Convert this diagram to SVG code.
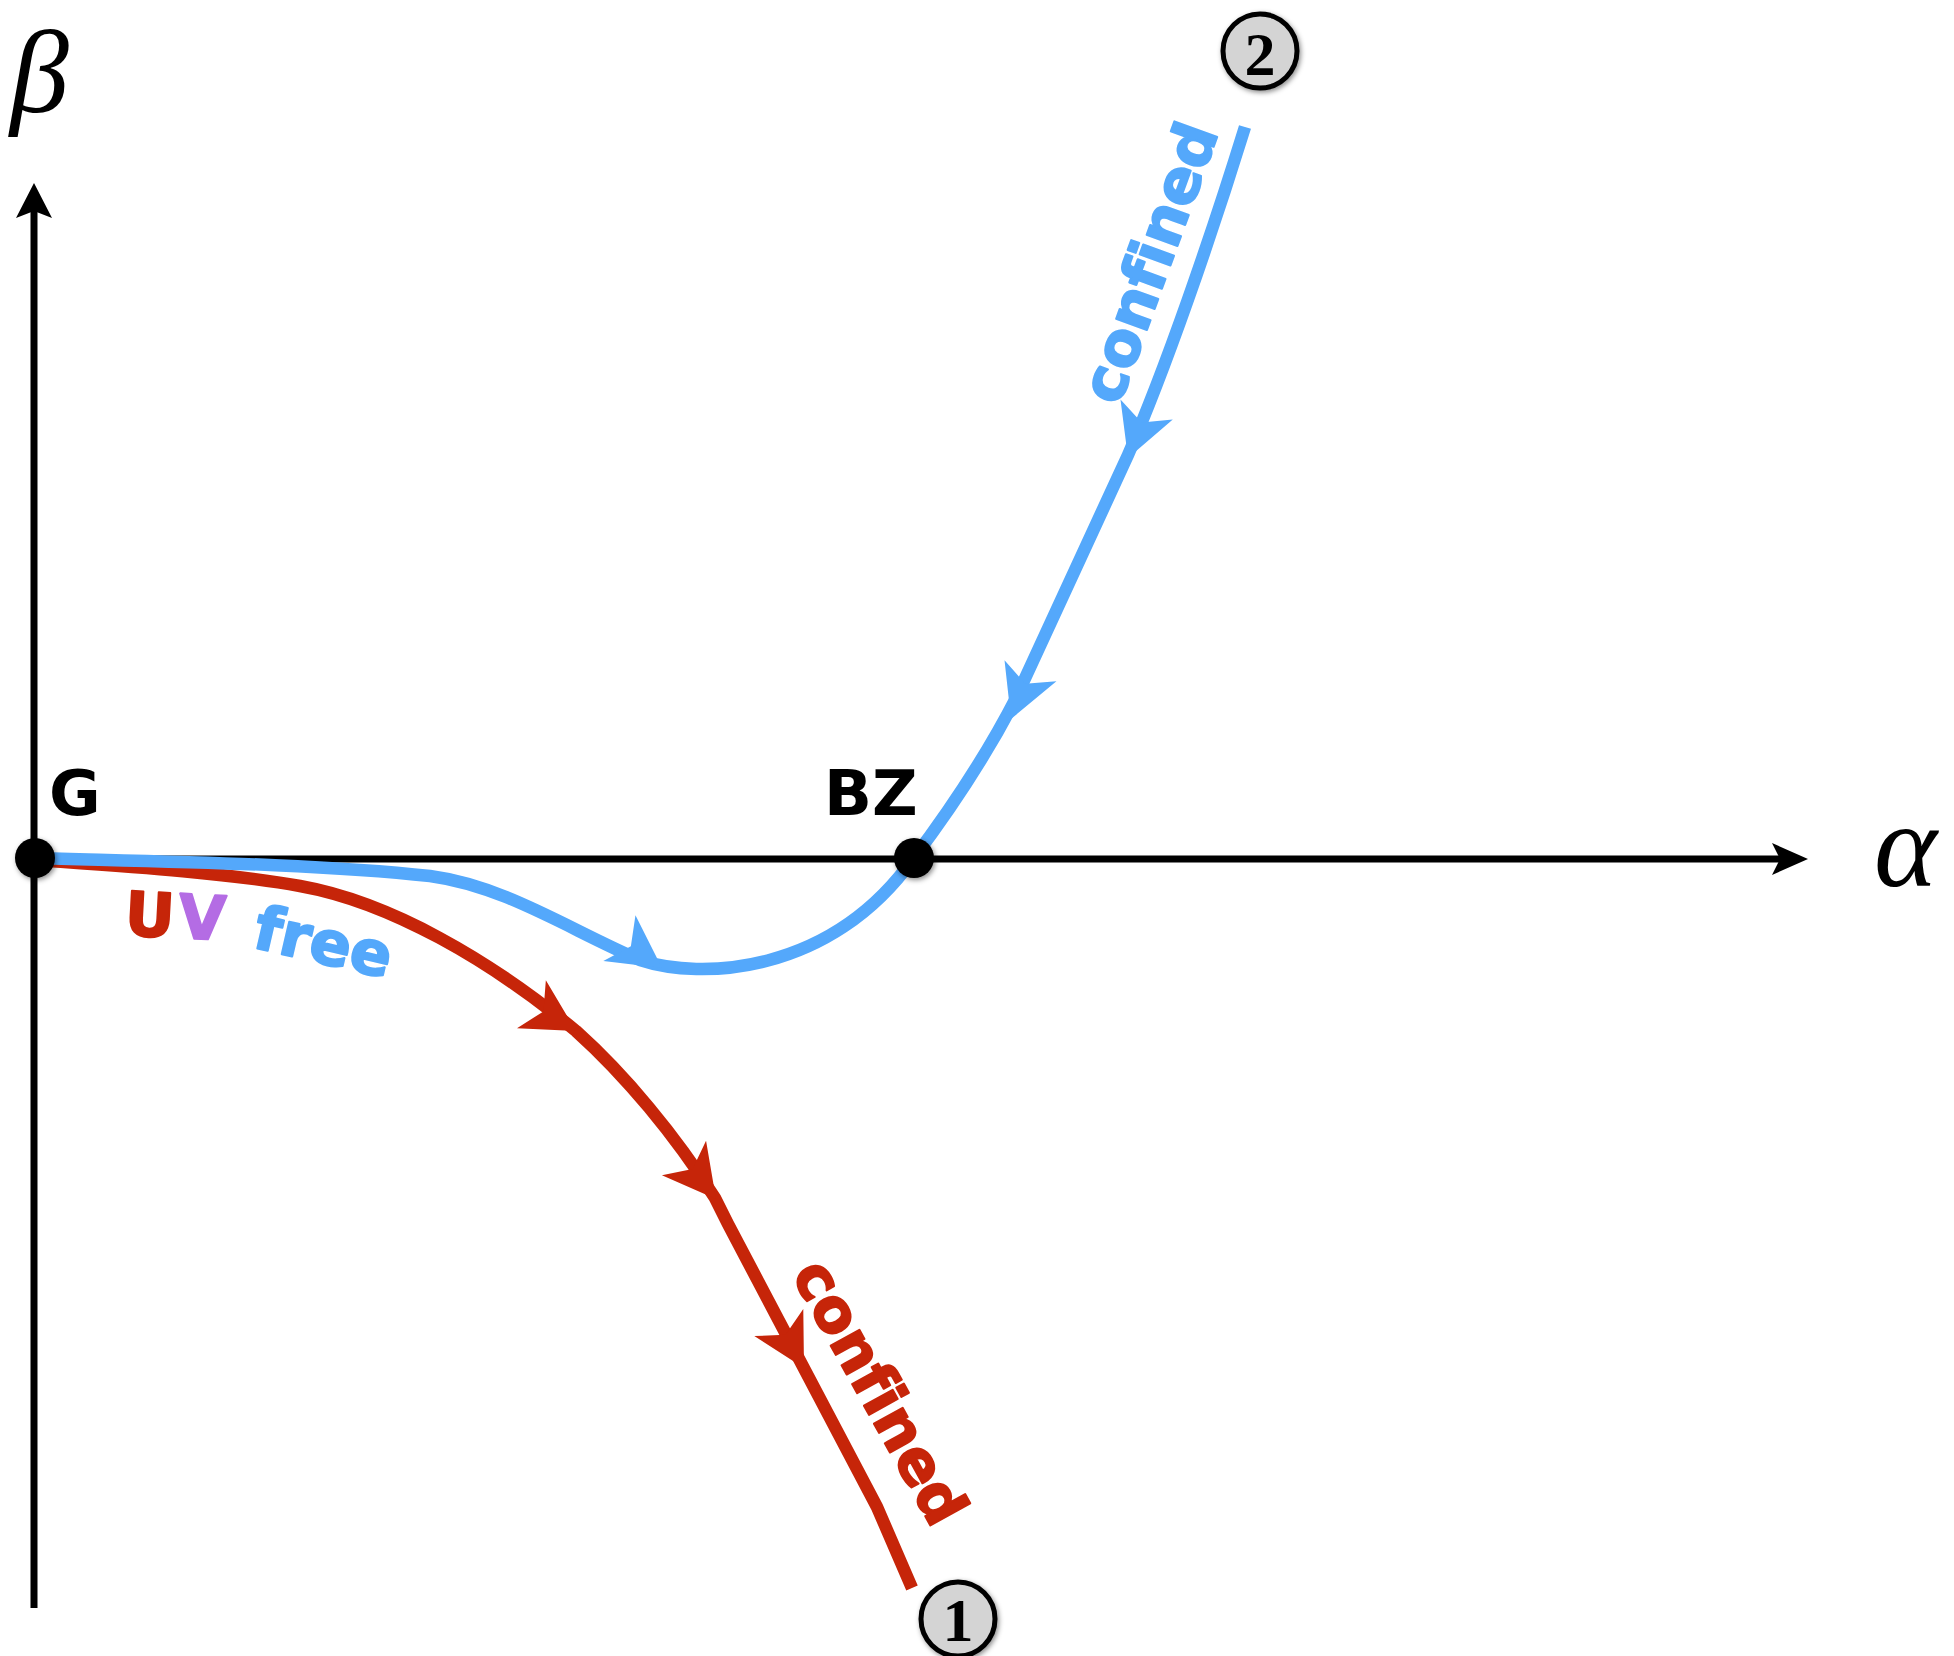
<svg xmlns="http://www.w3.org/2000/svg" xmlns:xlink="http://www.w3.org/1999/xlink" width="1954" height="1656" viewBox="0 0 1954 1656">
<style>
.axis{stroke:#000;stroke-width:7;fill:none}
.red{stroke:#c62509;stroke-width:12.5;fill:none;stroke-linejoin:round}
.blue{stroke:#54a8fb;stroke-width:12.5;fill:none;stroke-linejoin:round}
.lbl{font-family:"DejaVu Sans",Verdana,sans-serif;font-weight:bold;stroke-width:2;stroke-linejoin:round;font-variant-ligatures:none;font-feature-settings:"liga" 0}
.num{font-family:"Liberation Serif","Times New Roman",serif;font-weight:bold;font-size:62px;text-anchor:middle}
.greek{font-family:"Liberation Serif","DejaVu Serif",serif;font-style:italic}
</style>
<defs>
<path id="ah" d="M0,0 L-52,-28 L-38,0 L-52,28 Z"/>
<filter id="sh" x="-30%" y="-30%" width="160%" height="160%">
<feDropShadow dx="1.5" dy="2" stdDeviation="2.5" flood-color="#000" flood-opacity="0.45"/>
</filter>
</defs>
<g id="axes">
<line class="axis" x1="34" y1="1608" x2="34" y2="205"/>
<path d="M34,183 L52,218 L34,211 L16,218 Z" fill="#000"/>
<line class="axis" x1="34" y1="859" x2="1785" y2="859"/>
<path d="M1808,859 L1772,843 L1780,859 L1772,875 Z" fill="#000"/>
<text class="greek" x="10" y="112" font-size="118">β</text>
<text class="greek" x="1874" y="886" font-size="120">α</text>
</g>
<g id="connectors">
<path id="red-flow" class="red" d="M35,860 C120,866 220,872 300,886 C390,902 490,960 576,1031 C625,1075 675,1135 715,1198 L728,1224 L877,1507 L912,1588"/>
<path id="blue-flow" class="blue" d="M35,858 C180,862 320,864 430,876 C505,886 570,930 640,960 C700,980 830,975 913,859 C950,810 985,758 1016,698 L1128,455 C1165,370 1210,240 1245,127"/>
<use xlink:href="#ah" href="#ah" fill="#c62509" transform="translate(576,1031) rotate(31)"/>
<use xlink:href="#ah" href="#ah" fill="#c62509" transform="translate(716,1199) rotate(52)"/>
<use xlink:href="#ah" href="#ah" fill="#c62509" transform="translate(804,1368) rotate(61)"/>
<use xlink:href="#ah" href="#ah" fill="#54a8fb" transform="translate(1128,458) rotate(111)"/>
<use xlink:href="#ah" href="#ah" fill="#54a8fb" transform="translate(1011,719) rotate(112)"/>
<use xlink:href="#ah" href="#ah" fill="#54a8fb" transform="translate(662,968) rotate(35)"/>
</g>
<g id="labels">
<text class="lbl" transform="translate(124,935) rotate(3)" font-size="61"><tspan fill="#c62509" stroke="#c62509">U</tspan><tspan fill="#b46ce4" stroke="#b46ce4" dx="4">V</tspan></text>
<text class="lbl" fill="#54a8fb" stroke="#54a8fb" font-size="61" transform="translate(251,947) rotate(13)">free</text>
<text class="lbl" fill="#54a8fb" stroke="#54a8fb" font-size="60" transform="translate(1119,407) rotate(-70)">confined</text>
<text class="lbl" fill="#c62509" stroke="#c62509" font-size="60" transform="translate(791,1274) rotate(61)">confined</text>
</g>
<g id="node-G">
<circle cx="35" cy="858" r="20" fill="#000" filter="url(#sh)"/>
<text class="lbl" x="49" y="815" font-size="63">G</text>
</g>
<g id="node-BZ">
<circle cx="914" cy="858" r="20" fill="#000" filter="url(#sh)"/>
<text class="lbl" x="824" y="815" font-size="63">BZ</text>
</g>
<g id="node-2">
<circle cx="1260" cy="51" r="37" fill="#d4d4d4" stroke="#000" stroke-width="5" filter="url(#sh)"/>
<text class="num" x="1260" y="75">2</text>
</g>
<g id="node-1">
<circle cx="958" cy="1619" r="37" fill="#d4d4d4" stroke="#000" stroke-width="5" filter="url(#sh)"/>
<text class="num" x="958" y="1641">1</text>
</g>
</svg>
